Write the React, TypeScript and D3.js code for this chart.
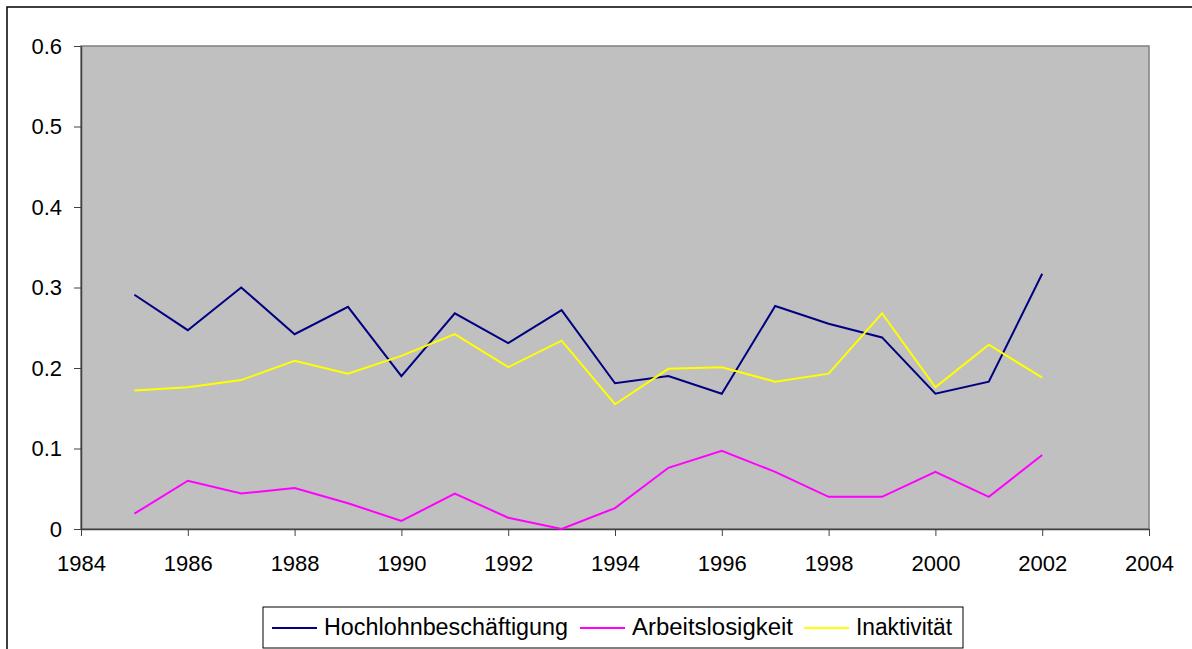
import React, { useEffect, useRef } from "react";
import * as d3 from "d3";

const years = [1985, 1986, 1987, 1988, 1989, 1990, 1991, 1992, 1993, 1994, 1995, 1996, 1997, 1998, 1999, 2000, 2001, 2002];

const hochlohn = [0.291, 0.247, 0.3, 0.242, 0.276, 0.19, 0.268, 0.231, 0.272, 0.181, 0.19, 0.168, 0.277, 0.255, 0.238, 0.168, 0.183, 0.317];
const arbeitslos = [0.019, 0.06, 0.044, 0.051, 0.032, 0.01, 0.044, 0.014, 0.0, 0.026, 0.076, 0.097, 0.071, 0.04, 0.04, 0.071, 0.04, 0.092];
const inaktiv = [0.172, 0.176, 0.185, 0.209, 0.193, 0.215, 0.242, 0.201, 0.234, 0.155, 0.199, 0.201, 0.183, 0.193, 0.268, 0.176, 0.229, 0.188];

const xTicks = [1984, 1986, 1988, 1990, 1992, 1994, 1996, 1998, 2000, 2002, 2004];
const yTicks = [0, 0.1, 0.2, 0.3, 0.4, 0.5, 0.6];

const series = [
  { name: "Hochlohnbeschäftigung", values: hochlohn, color: "#000080" },
  { name: "Arbeitslosigkeit", values: arbeitslos, color: "#FF00FF" },
  { name: "Inaktivität", values: inaktiv, color: "#FFFF00" },
];

const App: React.FC = () => {
  const svgRef = useRef<SVGSVGElement | null>(null);

  useEffect(() => {
    if (!svgRef.current) return;
    const width = 1192;
    const height = 649;
    const plot = { left: 81, right: 1149, top: 46, bottom: 529 };
    const font = "'Liberation Sans', Arial, sans-serif";

    const svg = d3.select(svgRef.current);
    svg.selectAll("*").remove();
    svg.attr("width", width).attr("height", height);

    svg.append("rect").attr("width", width).attr("height", height).attr("fill", "#fff");

    // outer chart frame
    svg.append("rect")
      .attr("x", 7).attr("y", 7)
      .attr("width", width + 20).attr("height", height + 20)
      .attr("fill", "none").attr("stroke", "#000").attr("stroke-width", 1.5);

    const x = d3.scaleLinear().domain([1984, 2004]).range([plot.left, plot.right]);
    const y = d3.scaleLinear().domain([0, 0.6]).range([plot.bottom, plot.top]);

    // plot area
    svg.append("rect")
      .attr("x", plot.left).attr("y", plot.top)
      .attr("width", plot.right - plot.left).attr("height", plot.bottom - plot.top)
      .attr("fill", "#C0C0C0").attr("stroke", "#808080").attr("stroke-width", 1.5);

    // y axis
    const yAxis = svg.append("g")
      .attr("transform", `translate(${plot.left},0)`)
      .call(d3.axisLeft(y).tickValues(yTicks).tickSize(7).tickSizeOuter(0).tickPadding(12)
        .tickFormat((d) => (d === 0 ? "0" : d3.format(".1f")(d as number))));
    yAxis.select(".domain").attr("stroke", "#404040").attr("stroke-width", 1.5);
    yAxis.selectAll(".tick line").attr("stroke", "#404040");
    yAxis.selectAll("text").attr("font-family", font).attr("font-size", 22).attr("fill", "#000");

    // x axis
    const xAxis = svg.append("g")
      .attr("transform", `translate(0,${plot.bottom})`)
      .call(d3.axisBottom(x).tickValues(xTicks).tickSize(7).tickSizeOuter(0).tickPadding(19)
        .tickFormat(d3.format("d")));
    xAxis.select(".domain").attr("stroke", "#404040").attr("stroke-width", 1.5);
    xAxis.selectAll(".tick line").attr("stroke", "#404040");
    xAxis.selectAll("text").attr("font-family", font).attr("font-size", 22).attr("fill", "#000");

    const line = d3.line<number>()
      .x((_, i) => x(years[i]))
      .y((d) => y(d));

    series.forEach((s) => {
      svg.append("path")
        .datum(s.values)
        .attr("d", line)
        .attr("fill", "none")
        .attr("stroke", s.color)
        .attr("stroke-width", 2);
    });

    // legend
    const legend = svg.append("g");
    legend.append("rect")
      .attr("x", 263).attr("y", 607)
      .attr("width", 700).attr("height", 41)
      .attr("fill", "#fff").attr("stroke", "#000").attr("stroke-width", 1);
    const itemX = [272, 580, 804];
    series.forEach((s, i) => {
      legend.append("line")
        .attr("x1", itemX[i]).attr("x2", itemX[i] + 45)
        .attr("y1", 628).attr("y2", 628)
        .attr("stroke", s.color).attr("stroke-width", 2);
      legend.append("text")
        .attr("x", itemX[i] + 52).attr("y", 635)
        .attr("font-family", font).attr("font-size", 23)
        .attr("textLength", [244, 161, 96][i])
        .attr("lengthAdjust", "spacingAndGlyphs")
        .text(s.name);
    });
  }, []);

  return <svg ref={svgRef} style={{ position: "absolute", left: 0, top: 0, display: "block" }}></svg>;
};

export default App;
